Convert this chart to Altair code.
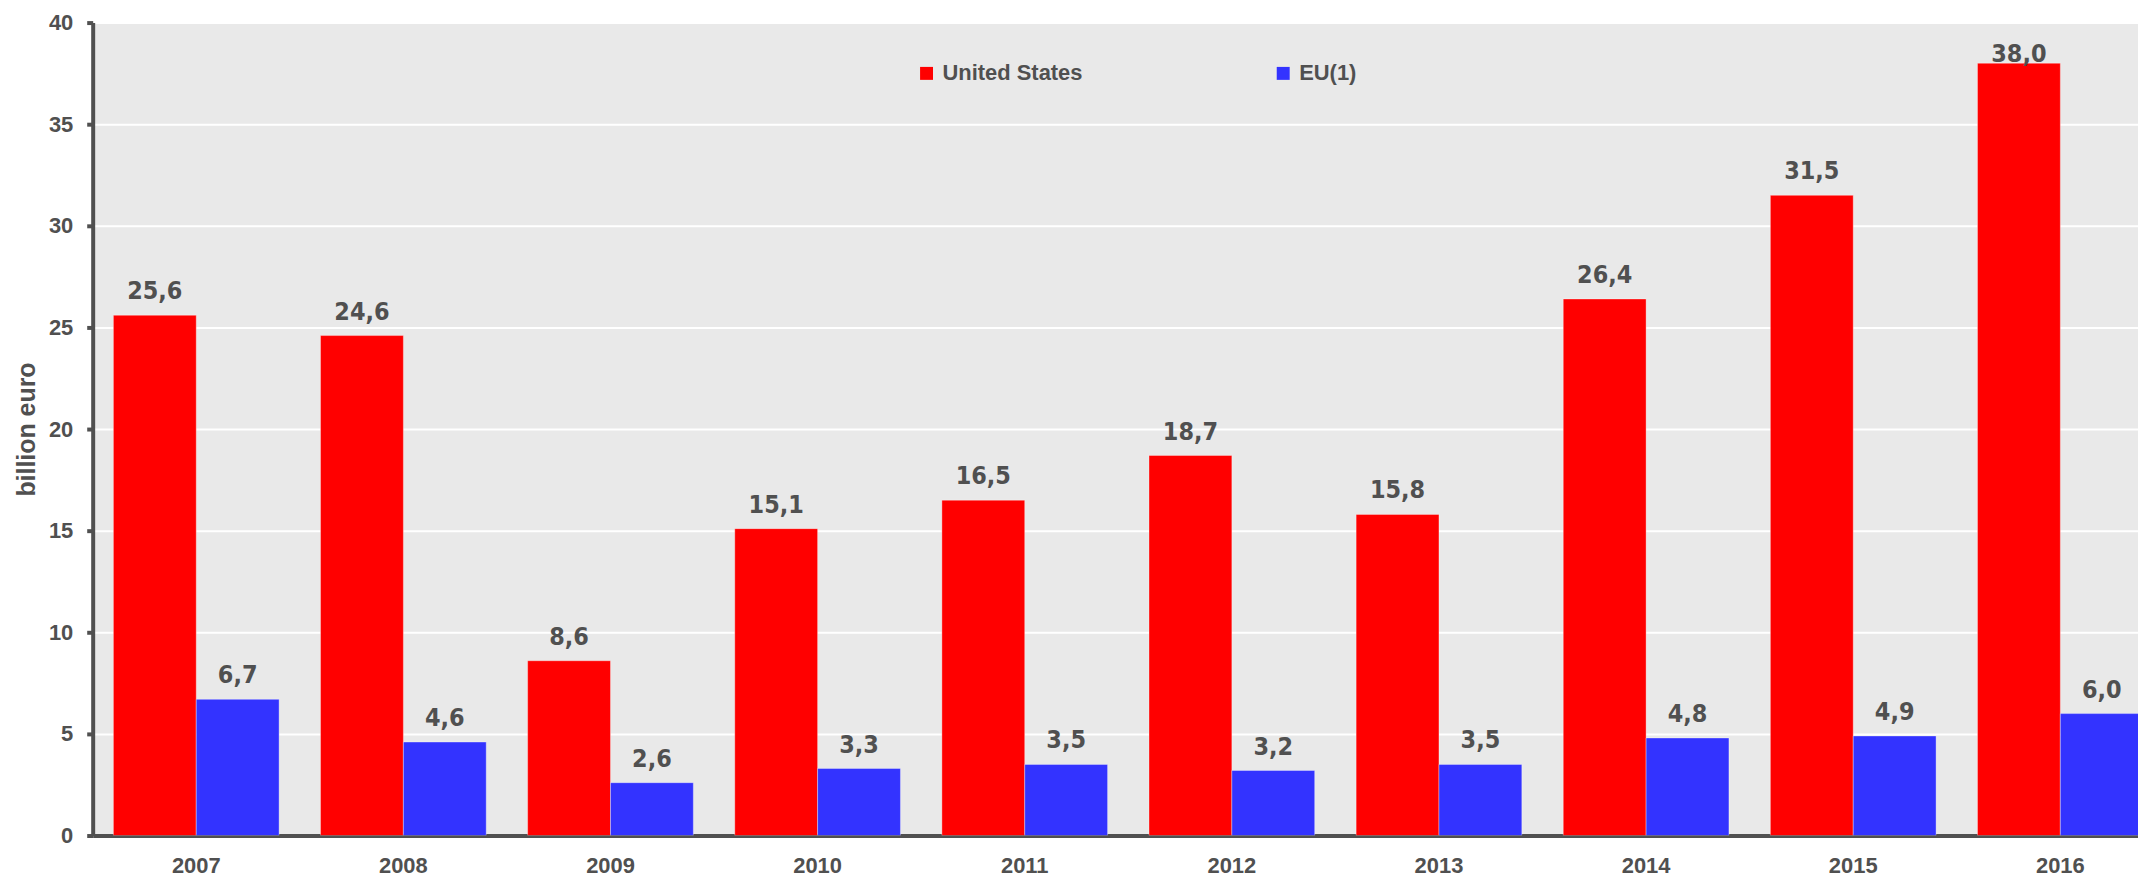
import altair as alt
import pandas as pd

years = ["2007", "2008", "2009", "2010", "2011", "2012", "2013", "2014", "2015", "2016"]
us_values = [25.6, 24.6, 8.6, 15.1, 16.5, 18.7, 15.8, 26.4, 31.5, 38.0]
eu_values = [6.7, 4.6, 2.6, 3.3, 3.5, 3.2, 3.5, 4.8, 4.9, 6.0]
series = ["United States", "EU(1)"]
colors = ["#FF0000", "#3333FF"]
y_ticks = [0, 5, 10, 15, 20, 25, 30, 35, 40]

rows = []
for i, y in enumerate(years):
    rows.append({"year": y, "series": series[0], "value": us_values[i]})
    rows.append({"year": y, "series": series[1], "value": eu_values[i]})
df = pd.DataFrame(rows)

GREY = "#505050"
NARROW = "Liberation Sans Narrow, DejaVu Sans Condensed, Roboto Condensed, Roboto, sans-serif"

x_enc = alt.X("year:N", sort=years,
              scale=alt.Scale(range=[0, 2079], paddingInner=0.2, paddingOuter=0.1),
              axis=alt.Axis(title=None, ticks=False, labelAngle=0, labelFont="Liberation Sans",
                            labelFontSize=22, labelFontWeight="bold", labelColor=GREY,
                            labelPadding=20, domainColor=GREY, domainWidth=4, grid=False,
                            labelBaseline="top"))
xoff = alt.XOffset("series:N", sort=series, scale=alt.Scale(domain=series, paddingInner=0, paddingOuter=0))

bars = alt.Chart(df).mark_bar(clip=True, stroke="#ffffff", strokeOpacity=0.35, strokeWidth=1).encode(
    x=x_enc,
    xOffset=xoff,
    y=alt.Y("value:Q", scale=alt.Scale(domain=[0, 40], nice=False),
            axis=alt.Axis(title="billion euro", values=y_ticks, tickSize=6, tickWidth=4,
                          tickColor=GREY, domainColor=GREY, domainWidth=4,
                          labelFont="Liberation Sans", labelFontSize=22, labelFontWeight="bold",
                          labelColor=GREY, labelPadding=14,
                          gridColor="#FFFFFF", gridWidth=2,
                          titleFont="Liberation Sans", titleFontSize=25, titleFontWeight="bold",
                          titleColor=GREY, titleX=-66, titleY=408, titleAngle=270,
                          titleBaseline="middle", titleAlign="center")),
    color=alt.Color("series:N", sort=series, scale=alt.Scale(domain=series, range=colors),
                    legend=alt.Legend(title=None, orient="none", legendX=826, legendY=40,
                                      direction="horizontal", symbolType="square",
                                      symbolSize=169, symbolStrokeWidth=0,
                                      labelFont="Liberation Sans", labelFontSize=22,
                                      labelFontWeight="bold", labelColor=GREY,
                                      labelOffset=5, columnPadding=190, padding=0)),
)

labels = alt.Chart(df).transform_calculate(
    label="replace(format(datum.value, '.1f'), '.', ',')",
    ly="min(datum.value, 37.3)",
).mark_text(clip=True, font=NARROW, fontSize=25, fontWeight="bold",
            color=GREY, baseline="alphabetic", dy=-16).encode(
    x=alt.X("year:N", sort=years),
    xOffset=alt.XOffset("series:N", sort=series),
    y=alt.Y("ly:Q"),
    text="label:N",
)

chart = alt.layer(bars, labels).properties(
    width=2053, height=816,
    autosize=alt.AutoSizeParams(type="none"),
    padding={"left": 85, "top": 13, "right": 0, "bottom": 40},
    background="#FFFFFF",
).configure_view(fill="#E9E9E9", stroke=None)

chart.save("out.html", embed_options={"renderer": "svg", "actions": False})
